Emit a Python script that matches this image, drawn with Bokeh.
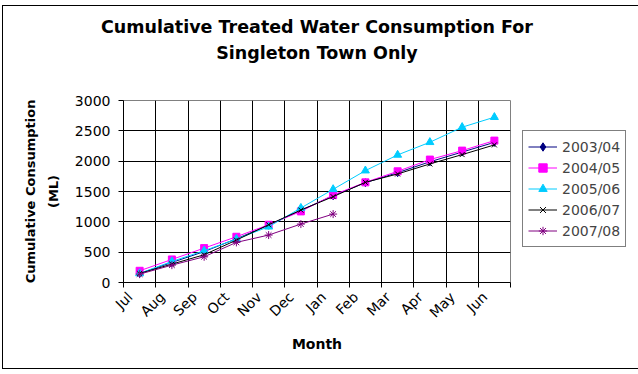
import math
from bokeh.plotting import figure
from bokeh.models import FixedTicker, Legend, LegendItem, Range1d, CustomJSTickFormatter, Title
from bokeh.embed import file_html
from bokeh.resources import INLINE

months = ["Jul", "Aug", "Sep", "Oct", "Nov", "Dec", "Jan", "Feb", "Mar", "Apr", "May", "Jun"]
y_ticks = [0, 500, 1000, 1500, 2000, 2500, 3000]

s_2003_04 = [150, 330, 510, 720, 945, 1190, 1430, 1645, 1810, 1990, 2150, 2310]
s_2004_05 = [193, 380, 567, 754, 952, 1172, 1442, 1651, 1833, 2026, 2174, 2339]
s_2005_06 = [149, 347, 523, 716, 919, 1228, 1536, 1844, 2103, 2312, 2560, 2725]
s_2006_07 = [149, 303, 457, 699, 952, 1194, 1415, 1651, 1789, 1954, 2108, 2268]
s_2007_08 = [138, 286, 424, 661, 782, 963, 1128]

series_names = ["2003/04", "2004/05", "2005/06", "2006/07", "2007/08"]
series_values = [s_2003_04, s_2004_05, s_2005_06, s_2006_07, s_2007_08]
colors = ["#000080", "#FF00FF", "#00CCFF", "#000000", "#800080"]
markers = ["diamond", "square", "triangle", "x", "asterisk"]
sizes = [8, 7, 8, 7, 8]

FONT = "DejaVu Sans"

p = figure(frame_width=387, frame_height=182, output_backend="svg", toolbar_location=None,
           x_range=Range1d(0, 12), y_range=Range1d(0, 3000),
           min_border_left=120, min_border_right=121, min_border_top=94, min_border_bottom=86)
p.title = Title(text="Cumulative Treated Water Consumption For", align="center",
                text_font=FONT, text_font_size="17.5px", text_font_style="bold",
                text_color="black", standoff=4)
# spacer between the second title line and the plot area
p.add_layout(Title(text=" ", text_font_size="1px", standoff=33), "above")
p.add_layout(Title(text="Singleton Town Only", align="center",
                   text_font=FONT, text_font_size="17.5px", text_font_style="bold",
                   text_color="black", standoff=4), "above")
p.background_fill_color = "white"
p.border_fill_color = "white"
p.outline_line_color = "#808080"
p.styles = {"margin-left": "2px", "margin-top": "5px", "border": "1px solid black"}

items = []
for name, vals, c, m, s in zip(series_names, series_values, colors, markers, sizes):
    xs = [i + 0.5 for i in range(len(vals))]
    r1 = p.line(xs, vals, line_color=c, line_width=1)
    r2 = p.scatter(xs, vals, marker=m, size=s, fill_color=c, line_color=c, line_width=1)
    items.append(LegendItem(label=name, renderers=[r1, r2]))

legend = Legend(items=items, location=(12, 35), border_line_color="black", border_line_width=1,
                background_fill_color="white", background_fill_alpha=1,
                label_text_font=FONT, label_text_font_size="14px",
                glyph_width=29, glyph_height=21, label_height=21, label_standoff=5,
                padding=5, spacing=0, margin=0)
p.add_layout(legend, "right")

# x axis: labels anchored slightly left of each category centre, ticks at boundaries
xax = p.xaxis[0]
xax.ticker = FixedTicker(ticks=[i + 0.2 for i in range(12)], minor_ticks=list(range(13)))
xax.formatter = CustomJSTickFormatter(args=dict(months=months), code="return months[Math.floor(tick)] || '';")
xax.major_tick_in = 0
xax.major_tick_out = 0
xax.minor_tick_in = 0
xax.minor_tick_out = 5
xax.minor_tick_line_color = "black"
xax.axis_line_color = "black"
xax.major_label_orientation = math.pi / 4
xax.major_label_standoff = 7
xax.major_label_text_font = FONT
xax.major_label_text_font_size = "14px"
xax.major_label_text_color = "black"
xax.axis_label = "Month"
xax.axis_label_text_font = FONT
xax.axis_label_text_font_size = "14px"
xax.axis_label_text_font_style = "bold"
xax.axis_label_text_color = "black"
xax.axis_label_standoff = 7

yax = p.yaxis[0]
yax.ticker = FixedTicker(ticks=y_ticks)
yax.major_tick_in = 0
yax.major_tick_out = 5
yax.major_tick_line_color = "black"
yax.minor_tick_line_color = None
yax.axis_line_color = "black"
yax.major_label_standoff = 8
yax.major_label_text_font = FONT
yax.major_label_text_font_size = "14px"
yax.major_label_text_color = "black"
yax.axis_label = "Cumulative Consumption\n(ML)"
yax.axis_label_text_font = FONT
yax.axis_label_text_font_size = "13px"
yax.axis_label_text_font_style = "bold"
yax.axis_label_text_color = "black"
yax.axis_label_text_line_height = 1.55
yax.axis_label_standoff = 11

p.xgrid.ticker = FixedTicker(ticks=list(range(12)))
p.ygrid.ticker = FixedTicker(ticks=y_ticks)
p.xgrid.grid_line_color = "black"
p.ygrid.grid_line_color = "black"

open("out.html", "w").write(file_html(p, INLINE))
